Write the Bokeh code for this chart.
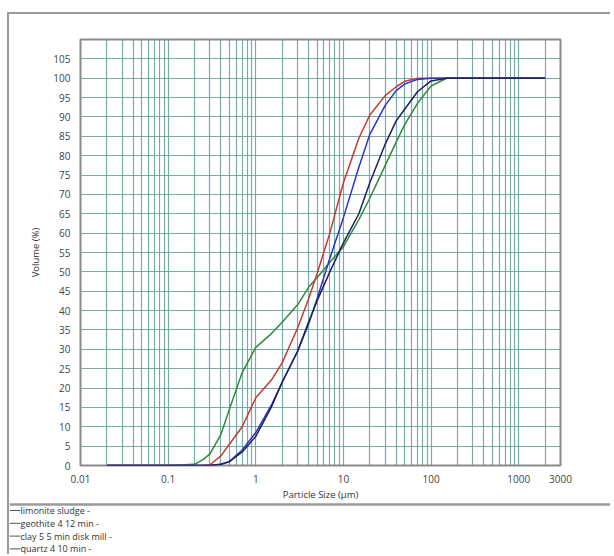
from bokeh.plotting import figure
from bokeh.models import FixedTicker, Range1d
from bokeh.core.properties import value
from bokeh.embed import file_html
from bokeh.resources import INLINE

# ---- data ----
sizes = [0.02, 0.1, 0.2, 0.25, 0.3, 0.4, 0.5, 0.7, 1, 1.5, 2, 3, 4, 5, 7, 10,
         15, 20, 30, 40, 50, 70, 100, 150, 200, 500, 1000, 2000]
clay = [0, 0, 0.3, 1.5, 3, 8, 14.5, 24, 30.5, 34, 37, 41.5, 46, 48.5, 52.5, 56.5,
        63.5, 69, 77.5, 83.5, 88, 93.5, 98, 100, 100, 100, 100, 100]
limonite = [0, 0, 0, 0, 0.2, 2.5, 5.5, 10, 17.5, 22, 26.5, 35.5, 43, 49.5, 60, 73,
            84.5, 90.5, 95.5, 97.8, 99.2, 100, 100, 100, 100, 100, 100, 100]
geothite = [0, 0, 0, 0, 0, 0.3, 1, 4, 8.5, 15.5, 21.5, 29.5, 36.5, 43, 53.5, 64,
            77, 85.5, 93, 96.8, 98.5, 99.7, 100, 100, 100, 100, 100, 100]
quartz = [0, 0, 0, 0, 0, 0.3, 1, 3.5, 7.5, 15, 21.5, 29.5, 37, 42.5, 50, 57.5,
          65, 73, 83, 89, 92, 96.5, 99.3, 100, 100, 100, 100, 100]

legend_names = ["limonite sludge -", "geothite 4 12 min -",
                "clay 5 5 min disk mill -", "quartz 4 10 min -"]
x_ticks = [0.01, 0.1, 1, 10, 100, 1000, 3000]
x_tick_labels = ["0.01", "0.1", "1", "10", "100", "1000", "3000"]
y_ticks = list(range(0, 110, 5))

FONT = "Open Sans"
W = 603
H1, H2 = 489, 53
BORDER = "#9a9a9a"

p = figure(width=W, height=H1, x_axis_type="log",
           x_range=Range1d(0.01, 3000), y_range=Range1d(0, 110),
           output_backend="svg", toolbar_location=None,
           min_border_left=71, min_border_right=52,
           min_border_top=25, min_border_bottom=34)
p.background_fill_color = "white"
p.border_fill_color = "white"
p.outline_line_color = "#8a8a8a"
p.outline_line_width = 2

# grid
grid_vals = []
for dec in [0.01, 0.1, 1, 10, 100, 1000]:
    for m in range(1, 10):
        v = round(dec * m, 6)
        if v <= 2000:
            grid_vals.append(v)
p.xgrid.ticker = FixedTicker(ticks=grid_vals)
p.ygrid.ticker = FixedTicker(ticks=y_ticks)
for g in (p.xgrid, p.ygrid):
    g.grid_line_color = "#5f9f97"
    g.grid_line_width = 1.2
    g.grid_line_alpha = 0.85

# axes
p.xaxis.ticker = FixedTicker(ticks=x_ticks)
p.xaxis.major_label_overrides = {t: l for t, l in zip(x_ticks, x_tick_labels)}
p.yaxis.ticker = FixedTicker(ticks=y_ticks)
for ax in (p.xaxis, p.yaxis):
    ax.axis_line_color = None
    ax.major_tick_line_color = None
    ax.minor_tick_line_color = None
    ax.major_label_text_font = FONT
    ax.major_label_text_font_size = "10px"
    ax.major_label_text_color = "#444444"
    ax.axis_label_text_font = FONT
    ax.axis_label_text_font_size = "9.5px"
    ax.axis_label_text_font_style = "normal"
    ax.axis_label_text_color = "#333333"
p.xaxis.axis_label = "Particle Size (µm)"
p.yaxis.axis_label = "Volume (%)"
p.xaxis.major_label_standoff = 3
p.yaxis.major_label_standoff = 4
p.xaxis.axis_label_standoff = 2
p.yaxis.axis_label_standoff = 8

# curves
p.line(sizes, clay, line_color="#2f8a3c", line_width=1.5)
p.line(sizes, limonite, line_color="#c43a33", line_width=1.5)
p.line(sizes, geothite, line_color="#2a36c2", line_width=1.5)
p.line(sizes, quartz, line_color="#1d1f63", line_width=1.5)
p.styles = {"margin-left": "7px", "margin-top": "12px",
            "border-left": "2px solid " + BORDER,
            "border-top": "2px solid " + BORDER}

# ---- legend strip below the chart ----
leg = figure(width=W, height=H2, x_range=Range1d(0, W), y_range=Range1d(H2, 0),
             output_backend="svg", toolbar_location=None,
             min_border=0, min_border_left=0, min_border_right=0,
             min_border_top=0, min_border_bottom=0)
leg.axis.visible = False
leg.grid.visible = False
leg.outline_line_color = None
leg.background_fill_color = "white"
leg.border_fill_color = "white"
leg.styles = {"margin-left": "7px", "border-left": "2px solid " + BORDER}

row_y = [9 + 12.8 * i for i in range(len(legend_names))]
leg.segment(x0=[0], y0=[3], x1=[W], y1=[3], line_color=BORDER, line_width=2.5)
leg.segment(x0=[0] * len(row_y), y0=row_y, x1=[11] * len(row_y), y1=row_y,
            line_color="#555555", line_width=1)
leg.text(x=[11] * len(row_y), y=row_y, text=legend_names,
         text_font=value(FONT), text_font_size="9px", text_color="#333333",
         text_baseline="middle", text_align="left")

open("out.html", "w").write(file_html([p, leg], INLINE))
